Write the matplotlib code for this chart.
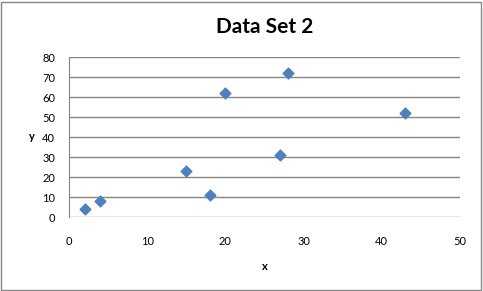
import matplotlib
matplotlib.use("Agg")
import matplotlib.pyplot as plt
from matplotlib.patches import Rectangle

x_vals = [2, 4, 15, 18, 20, 27, 28, 43]
y_vals = [4, 8, 23, 11, 62, 31, 72, 52]
x_ticks = [0, 10, 20, 30, 40, 50]
y_ticks = [0, 10, 20, 30, 40, 50, 60, 70, 80]

plt.rcParams['font.family'] = ['Lato', 'DejaVu Sans']

fig = plt.figure(figsize=(4.83, 2.91), dpi=100)
ax = fig.add_axes([69/483, 1-217/291, (460-69)/483, (217-57)/291])

# chart border like the excel frame
fig.patches.append(Rectangle((1/483, 1/291), 480/483, 288/291, transform=fig.transFigure,
                             fill=False, edgecolor='#868686', linewidth=1))

ax.scatter(x_vals, y_vals, marker='D', s=30, color='#4F81BD', edgecolors='#4F81BD', zorder=3)

ax.set_xlim(0, 50)
ax.set_ylim(0, 80)
ax.set_xticks(x_ticks)
ax.set_yticks(y_ticks)
ax.yaxis.grid(True, color='#868686', linewidth=1)
ax.set_axisbelow(True)
for side in ['top', 'right', 'bottom']:
    ax.spines[side].set_visible(False)
ax.spines['left'].set_color('#868686')
ax.tick_params(axis='both', length=0, labelsize=8)
ax.tick_params(axis='x', pad=14)
ax.tick_params(axis='y', pad=10)

ax.set_title('Data Set 2', fontsize=15, fontweight='bold', pad=17)
ax.set_xlabel('x', fontsize=8, fontweight='bold', labelpad=10)
ax.set_ylabel('y', fontsize=8, fontweight='bold', rotation=0, labelpad=7, va='center')

fig.savefig('out.png', dpi=100)
